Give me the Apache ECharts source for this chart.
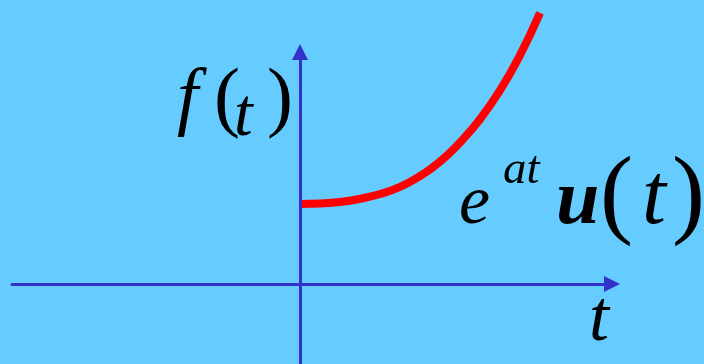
<!DOCTYPE html>
<html>
<head>
<meta charset="utf-8">
<script src="https://cdn.jsdelivr.net/npm/echarts@6/dist/echarts.min.js"></script>
<style>
html,body{margin:0;padding:0;background:#66CCFF;}
#chart{width:704px;height:364px;}
</style>
</head>
<body>
<div id="chart"></div>
<script>
// t values (horizontal) and f(t) = e^{at}u(t) values
var tValues = [0, 0.25, 0.5, 0.75, 1.0, 1.25, 1.5, 1.75, 2.0, 2.25, 2.5, 2.75, 3.0];
var fValues = [1.0, 1.006, 1.025, 1.065, 1.125, 1.215, 1.35, 1.53, 1.77, 2.06, 2.42, 2.86, 3.39];
var axisNames = { vertical: 'f', horizontal: 't' };

var chart = echarts.init(document.getElementById('chart'), null, {renderer: 'canvas'});
var points = tValues.map(function (t, i) { return [t, fValues[i]]; });

function glyph(text, x, y, size, italic, bold) {
  return {
    type: 'text', x: x, y: y, z: 10,
    style: {
      text: text, fill: '#000',
      fontFamily: "'Liberation Serif', 'DejaVu Serif', serif",
      fontSize: size,
      fontStyle: italic ? 'italic' : 'normal',
      fontWeight: bold ? 'bold' : 'normal',
      textAlign: 'left', textVerticalAlign: 'middle'
    }
  };
}

var axisStyle = { color: '#3333CC', width: 3 };
chart.setOption({
  backgroundColor: '#66CCFF',
  animation: false,
  grid: { left: 12, right: 92, top: 52, bottom: 0, containLabel: false },
  xAxis: {
    type: 'value', min: -3.6, max: 3.9, z: 3,
    axisLine: { onZero: true, lineStyle: axisStyle, symbol: ['none', 'triangle'], symbolSize: [16, 16] },
    axisTick: { show: false }, axisLabel: { show: false }, splitLine: { show: false }
  },
  yAxis: {
    type: 'value', min: -1, max: 2.9, z: 3,
    axisLine: { onZero: true, lineStyle: axisStyle, symbol: ['none', 'triangle'], symbolSize: [16, 16] },
    axisTick: { show: false }, axisLabel: { show: false }, splitLine: { show: false }
  },
  series: [{
    type: 'line', data: points, smooth: true, showSymbol: false, clip: false,
    lineStyle: { color: '#FF0000', width: 8, cap: 'butt' }, z: 2
  }],
  graphic: [
    glyph(axisNames.vertical, 177, 101, 76, true, false),
    glyph('(', 214, 102, 78, false, false),
    glyph('t', 234, 117, 67, true, false),
    glyph(')', 267, 102, 78, false, false),
    glyph('e', 459, 205, 70, true, false),
    glyph('at', 503, 171, 47, true, false),
    glyph('u', 556, 203, 78, true, true),
    glyph('(', 600, 199, 99, false, false),
    glyph('t', 642, 200, 86, true, false),
    glyph(')', 672, 199, 99, false, false),
    glyph(axisNames.horizontal, 589, 321, 72, true, false)
  ]
});
</script>
</body>
</html>
